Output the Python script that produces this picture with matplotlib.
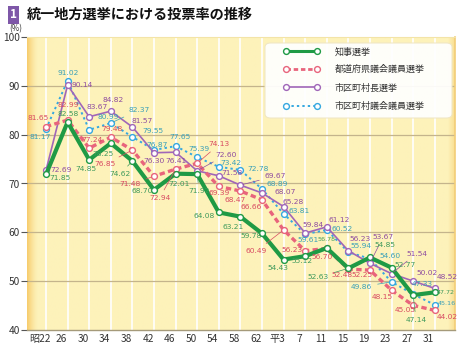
import numpy as np
import matplotlib
matplotlib.use("Agg")
import matplotlib.pyplot as plt
from matplotlib.lines import Line2D
from matplotlib.patches import FancyBboxPatch
from matplotlib.transforms import ScaledTranslation

plt.rcParams['font.family'] = ['Noto Sans CJK JP', 'DejaVu Sans']

# ---------------- data ----------------
years = ['昭22', '26', '30', '34', '38', '42', '46', '50', '54', '58', '62',
         '平3', '7', '11', '15', '19', '23', '27', '31']
governor = [71.85, 82.58, 74.85, 78.25, 74.62, 68.70, 72.01, 71.92, 64.08, 63.21,
            59.78, 54.43, 55.12, 56.78, 52.63, 54.85, 52.77, 47.14, 47.72]
pref_assembly = [81.65, 82.99, 77.24, 79.48, 76.85, 71.48, 72.94, 74.13, 69.39, 68.47,
                 66.66, 60.49, 56.23, 56.70, 52.48, 52.25, 48.15, 45.05, 44.02]
mayor = [72.69, 90.14, 83.67, 84.82, 81.57, 76.30, 76.41, 72.60, 71.58, 69.67,
         68.07, 65.28, 59.84, 61.12, 56.23, 53.67, 51.54, 50.02, 48.52]
muni_assembly = [81.17, 91.02, 80.99, 82.37, 79.55, 76.87, 77.65, 75.39, 73.42, 72.78,
                 68.89, 63.81, 59.61, 60.52, 55.94, 54.60, 49.86, 47.33, 45.16]
series_names = ['知事選挙', '都道府県議会議員選挙', '市区町村長選挙', '市区町村議会議員選挙']

# ---------------- label placement (pixel offsets, dy positive = down; leader flag) ----------------
off_gov = [(14, 4, 0), (1, -8, 0), (-3, 9, 0), (-8, 11, 0), (-12, 13, 1), (-12, 1, 0),
           (4, 10, 0), (2, 17, 1), (-15, 4, 0), (-7, 10, 0), (-11, 3, 0), (-6, 8, 0),
           (-3, 5, 0), (0, -9, 0), (-30, 9, 1), (15, -12, 0), (14, -3, 0), (3, 25, 1), (11, 0, 0)]
off_pref = [(-8, -9, 0), (1, -15, 0), (3, -8, 0), (1, -8, 0), (-27, 14, 1), (-24, 8, 1),
            (-16, 29, 1), (22, -19, 1), (0, 7, 0), (-5, 9, 0), (-11, 7, 0), (-27, 21, 1),
            (-13, -1, 0), (-5, 9, 0), (-6, 6, 0), (-8, 5, 0), (-9, 7, 0), (-8, 5, 0), (13, 7, 0)]
off_mayor = [(15, 0, 0), (15, 0, 0), (8, -10, 0), (2, -11, 0), (10, -6, 0), (0, 8, 0),
             (0, 9, 0), (29, -16, 1), (13, -3, 0), (35, -9, 1), (23, -1, 0), (10, -5, 0),
             (8, -8, 0), (12, -7, 0), (12, -12, 0), (13, -26, 1), (25, -20, 1), (14, -8, 0), (13, -11, 0)]
off_muni = [(-6, 8, 0), (1, -8, 0), (19, -13, 0), (28, -13, 1), (21, -6, 0), (3, -5, 0),
            (4, -9, 0), (2, -8, 0), (12, -4, 0), (18, -1, 0), (15, -5, 0), (16, -3, 0),
            (3, 6, 0), (15, -1, 0), (13, -6, 0), (20, -3, 0), (-30, 5, 1), (9, -10, 0), (12, -1, 0)]

# ---------------- styles ----------------
c_green, c_red, c_purple, c_cyan = '#1f9a45', '#e8647c', '#a066b8', '#35a8e0'
t_green, t_red, t_purple, t_cyan = '#3f9a5c', '#d84a62', '#8e4ca0', '#3aa0b8'

fig = plt.figure(figsize=(4.74, 3.5), dpi=100)
fig.patch.set_facecolor('white')
ax = fig.add_axes([27 / 474, 20 / 350, 428 / 474, 293 / 350])

x = np.arange(len(years))
ax.set_xlim(-0.88, 18.94)
ax.set_ylim(40, 100)

# background gradient
base = np.array([253, 242, 186]) / 255.0
edge = np.array([247, 205, 110]) / 255.0
n = 400
t = np.linspace(0, 1, n)
w = np.clip(1 - t / 0.025, 0, 1) ** 1.5
wr = np.clip((t - 0.985) / 0.015, 0, 1) * 0.5
wt = np.maximum(w, wr)
grad = base[None, :] * (1 - wt[:, None]) + edge[None, :] * wt[:, None]
grad = grad[None, :, :]
ax.imshow(grad, extent=[-0.88, 18.94, 40, 100], aspect='auto', zorder=0, interpolation='bilinear')

for xi in x:
    ax.axvline(xi, color='white', lw=1.4, alpha=0.85, zorder=1)
for yv in [50, 60, 70, 80, 90]:
    ax.axhline(yv, color='#c4b48c', lw=0.9, zorder=1)

lines = [
    (muni_assembly, c_cyan, 1.4, (0, (1.2, 1.6)), t_cyan, off_muni, 3),
    (mayor, c_purple, 1.2, '-', t_purple, off_mayor, 4),
    (pref_assembly, c_red, 2.4, (0, (1.6, 1.0)), t_red, off_pref, 5),
    (governor, c_green, 3.0, '-', t_green, off_gov, 6),
]
for vals, col, lw, ls, tcol, offs, z in lines:
    ax.plot(x, vals, color=col, lw=lw, linestyle=ls, marker='o', markersize=4.2,
            markerfacecolor='white', markeredgecolor=col, markeredgewidth=1.0, zorder=z)
    for xi, v, (dx, dy, lead) in zip(x, vals, offs):
        fs = 4.6 if (xi >= 18 and col in (c_green, c_cyan)) or (xi == 13 and col == c_green) else 5.4
        kw = {}
        if lead:
            kw['arrowprops'] = dict(arrowstyle='-', color=tcol, lw=0.5, shrinkA=2, shrinkB=2)
        ax.annotate(f'{v:.2f}', (xi, v), xytext=(dx, -dy), textcoords='offset pixels',
                    ha='center', va='center', fontsize=fs, color=tcol,
                    family='DejaVu Sans', zorder=8, **kw)

# legend frame (drawn separately for the wide padding of the reference)
frame = FancyBboxPatch((265 / 474, 1 - 118 / 350), 187 / 474, 75 / 350,
                       boxstyle='round,pad=0,rounding_size=0.012',
                       transform=fig.transFigure, facecolor='white', alpha=0.93,
                       edgecolor='#efe6c4', lw=0.8, zorder=9)
ax.add_patch(frame)

leg_handles = [
    Line2D([], [], color=c_green, lw=2.2, marker='o', markersize=4.2, markerfacecolor='white',
           markeredgecolor=c_green, markeredgewidth=1.0),
    Line2D([], [], color=c_red, lw=2.0, linestyle=(0, (1.6, 1.0)), marker='o', markersize=4.2,
           markerfacecolor='white', markeredgecolor=c_red, markeredgewidth=1.0),
    Line2D([], [], color=c_purple, lw=1.2, marker='o', markersize=4.2, markerfacecolor='white',
           markeredgecolor=c_purple, markeredgewidth=1.0),
    Line2D([], [], color=c_cyan, lw=1.4, linestyle=(0, (1.2, 1.6)), marker='o', markersize=4.2,
           markerfacecolor='white', markeredgecolor=c_cyan, markeredgewidth=1.0),
]
leg = ax.legend(leg_handles, series_names, loc='upper left',
                bbox_to_anchor=(283 / 474, 1 - 47 / 350), bbox_transform=fig.transFigure,
                numpoints=2, handlelength=4.1, fontsize=6.5, labelspacing=1.0,
                borderpad=0, handletextpad=1.65, borderaxespad=0, frameon=False)
leg.set_zorder(10)
for txt in leg.get_texts():
    txt.set_color('#333333')

# axes / ticks
ax.set_xticks(x)
ax.set_xticklabels(years)
ax.set_yticks([40, 50, 60, 70, 80, 90, 100])
ax.tick_params(axis='x', length=0, pad=3, labelsize=7.3, colors='#333333')
ax.tick_params(axis='y', length=4, width=0.8, pad=1, labelsize=7.3, colors='#333333')
ax.tick_params(axis='y', color='#555555')
shift = ScaledTranslation(-6 / 100, 0, fig.dpi_scale_trans)
for lab in ax.get_xticklabels():
    lab.set_transform(lab.get_transform() + shift)

ax.spines['left'].set_visible(False)
ax.spines['bottom'].set_color('#a59a7a')
ax.spines['bottom'].set_linewidth(1.0)
ax.spines['top'].set_color('#f3e4a8')
ax.spines['right'].set_color('#f2cd78')
ax.spines['right'].set_linewidth(1.2)

# titles
fig.text(10 / 474, 1 - 15 / 350, '1', fontsize=8.5, color='white', weight='bold',
         ha='left', va='center',
         bbox=dict(boxstyle='square,pad=0.18', facecolor='#7e57a8', edgecolor='none'))
fig.text(27 / 474, 1 - 15 / 350, '統一地方選挙における投票率の推移', fontsize=10.2,
         weight='bold', color='#111111', ha='left', va='center')
fig.text(16 / 474, 1 - 29 / 350, '(%)', fontsize=5.8, color='#333333', ha='center', va='center')

fig.savefig('out.png', dpi=100)
